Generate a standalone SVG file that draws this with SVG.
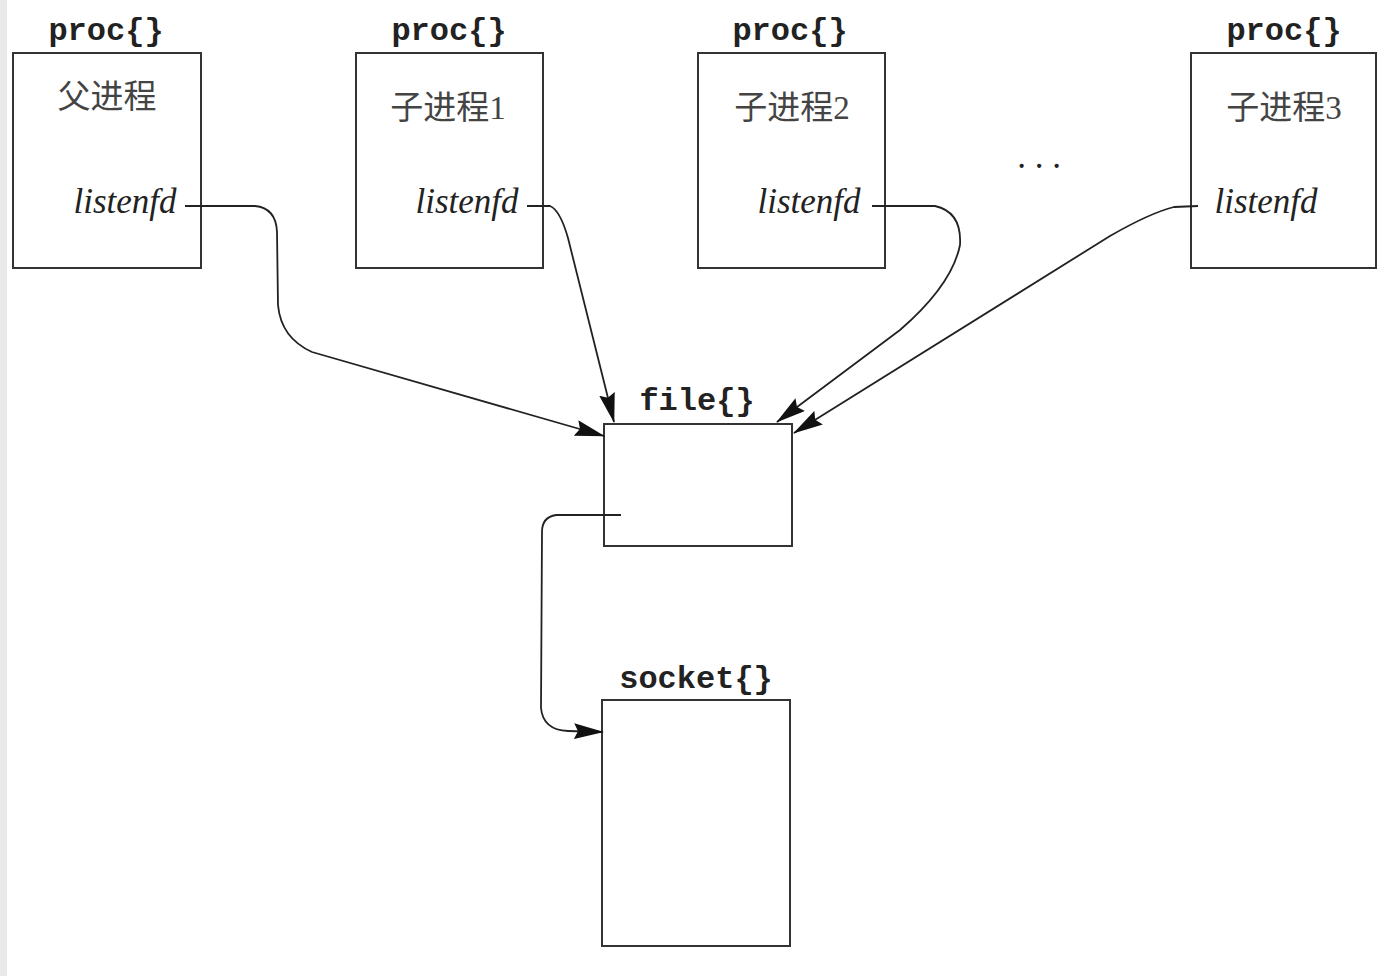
<svg xmlns="http://www.w3.org/2000/svg" width="1390" height="976" viewBox="0 0 1390 976">
<defs>
<marker id="arr" viewBox="0 0 30 16" refX="29" refY="8" markerWidth="30" markerHeight="16" markerUnits="userSpaceOnUse" orient="auto">
<path d="M0,0 L30,8 L0,16 L4,8 Z" fill="#111"/>
</marker>
</defs>
<style>
.box{fill:#fff;stroke:#333;stroke-width:2}
.mono{font-family:"Liberation Mono",monospace;font-weight:bold;font-size:32px;fill:#222}
.cjk{font-family:"Liberation Serif","Noto Sans CJK SC",serif;font-size:33px;fill:#444}
.fd{font-family:"Liberation Serif",serif;font-style:italic;font-size:35px;fill:#222}
.con{fill:none;stroke:#222;stroke-width:1.8}
</style>
<rect x="0" y="0" width="1390" height="976" fill="#fff"/>
<rect x="0" y="0" width="7" height="976" fill="#e9e9e9"/>
<g id="proc0">
<text class="mono" x="106" y="40" text-anchor="middle">proc{}</text>
<rect class="box" x="13" y="53" width="188" height="215"/>
<text class="cjk" x="107" y="108" text-anchor="middle">父进程</text>
<text class="fd" x="125" y="213" text-anchor="middle">listenfd</text>
</g>
<g id="proc1">
<text class="mono" x="449" y="40" text-anchor="middle">proc{}</text>
<rect class="box" x="356" y="53" width="187" height="215"/>
<text class="cjk" x="448" y="119" text-anchor="middle">子进程1</text>
<text class="fd" x="467" y="213" text-anchor="middle">listenfd</text>
</g>
<g id="proc2">
<text class="mono" x="790" y="40" text-anchor="middle">proc{}</text>
<rect class="box" x="698" y="53" width="187" height="215"/>
<text class="cjk" x="792" y="119" text-anchor="middle">子进程2</text>
<text class="fd" x="809" y="213" text-anchor="middle">listenfd</text>
</g>
<g id="dots">
<text class="fd" style="font-style:normal" x="1039" y="168" text-anchor="middle">. . .</text>
</g>
<g id="proc3">
<text class="mono" x="1284" y="40" text-anchor="middle">proc{}</text>
<rect class="box" x="1191" y="53" width="185" height="215"/>
<text class="cjk" x="1284" y="119" text-anchor="middle">子进程3</text>
<text class="fd" x="1266" y="213" text-anchor="middle">listenfd</text>
</g>
<g id="file">
<text class="mono" x="697" y="410" text-anchor="middle">file{}</text>
<rect class="box" x="604" y="424" width="188" height="122"/>
</g>
<g id="socket">
<text class="mono" x="696" y="688" text-anchor="middle">socket{}</text>
<rect class="box" x="602" y="700" width="188" height="246"/>
</g>
<g id="connectors">
<path class="con" marker-end="url(#arr)" d="M185,206 L255,206 Q276,208 277,232 L278,305 Q281,338 312,352 L604,436"/>
<path class="con" marker-end="url(#arr)" d="M527,206 L550,206 Q560,210 568,238 L614,422"/>
<path class="con" marker-end="url(#arr)" d="M872,206 L935,206 Q962,212 960,245 Q952,285 900,330 L777,422"/>
<path class="con" marker-end="url(#arr)" d="M1198,206 L1174,207 Q1150,213 1110,236 L794,433"/>
<path class="con" marker-end="url(#arr)" d="M621,515 L556,515 Q542,517 542,532 L541,708 Q543,730 568,731 L603,732"/>
</g>
</svg>
